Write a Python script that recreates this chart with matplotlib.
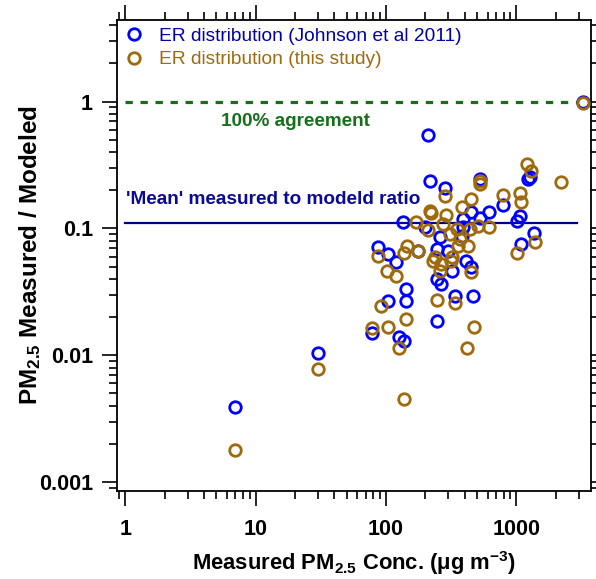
import matplotlib
matplotlib.use("Agg")
import matplotlib.pyplot as plt
from matplotlib.ticker import FixedLocator, FixedFormatter, LogLocator, NullFormatter

plt.rcParams["font.family"] = ["Liberation Sans", "DejaVu Sans"]
plt.rcParams["mathtext.fontset"] = "custom"
plt.rcParams["mathtext.rm"] = "Liberation Sans:bold"
plt.rcParams["mathtext.bf"] = "Liberation Sans:bold"
plt.rcParams["mathtext.default"] = "bf"

# Measured PM2.5 (ug m-3) and measured/modeled ratio, Johnson et al 2011 ERs
johnson_pm = [7.0, 30, 78, 87, 104, 104, 120, 126, 135, 137, 143, 143, 176,
              210, 216, 282, 198, 258, 244, 299, 244, 266, 248, 318, 337,
              409, 452, 465, 390, 379, 390, 452, 524, 620, 524, 791, 1002,
              1071, 1230, 1267, 1372, 1091, 3216]
johnson_ratio = [0.0039, 0.0104, 0.0149, 0.071, 0.063, 0.027, 0.054, 0.014,
                 0.112, 0.0129, 0.0332, 0.0267, 0.0667, 0.546, 0.235, 0.208,
                 0.103, 0.085, 0.069, 0.0667, 0.040, 0.0364, 0.0187, 0.0464,
                 0.0293, 0.0553, 0.0493, 0.0293, 0.1186, 0.0876, 0.102, 0.134,
                 0.121, 0.1336, 0.245, 0.153, 0.115, 0.1246, 0.245, 0.252,
                 0.0915, 0.0753, 1.0]

# Same comparison with the ERs of this study
study_pm = [7.0, 30, 78, 87, 92, 102, 104, 120, 126, 137, 145, 143, 137, 169,
            176, 210, 216, 222, 248, 229, 236, 258, 266, 274, 282, 287, 308,
            318, 314, 337, 347, 357, 368, 379, 414, 426, 439, 452, 452, 471,
            508, 524, 524, 617, 791, 1062, 1081, 1002, 1195, 1283, 1384, 2212,
            3216]
study_ratio = [0.00179, 0.0078, 0.0163, 0.0602, 0.0243, 0.0464, 0.0166,
               0.0423, 0.0115, 0.0639, 0.0722, 0.0193, 0.0045, 0.1117, 0.0667,
               0.0971, 0.1379, 0.1323, 0.0272, 0.0556, 0.0591, 0.0464, 0.0524,
               0.1083, 0.1812, 0.1275, 0.0903, 0.0591, 0.0553, 0.0258, 0.0989,
               0.073, 0.0825, 0.1467, 0.0114, 0.0722, 0.0989, 0.1706, 0.0453,
               0.0166, 0.105, 0.237, 0.222, 0.1026, 0.1835, 0.1904, 0.1607,
               0.0639, 0.322, 0.285, 0.0785, 0.2337, 0.977]

# Reference lines
line_x = [1, 2900]
agreement = 1.0
mean_ratio = 0.11

x_ticks = [1, 10, 100, 1000]
x_tick_labels = ["1", "10", "100", "1000"]
y_ticks = [0.001, 0.01, 0.1, 1]
y_tick_labels = ["0.001", "0.01", "0.1", "1"]

blue = "#0000FF"
brown = "#9E6A0C"

fig = plt.figure(figsize=(5.96, 5.79), dpi=100)
ax = fig.add_axes([0.197, 0.152, 0.7946, 0.8135])
ax.set_xscale("log")
ax.set_yscale("log")
ax.set_xlim(0.87, 3730)
ax.set_ylim(0.00085, 4.4)

ax.plot(line_x, [agreement, agreement], color="#16701A", lw=2.3,
        dashes=(2.3, 2.4), zorder=2)
ax.plot(line_x, [mean_ratio, mean_ratio], color="#000090", lw=1.6, zorder=2)

ax.plot(johnson_pm, johnson_ratio, "o", ms=8.3, mfc="none", mec=blue, mew=2.0,
        label="ER distribution (Johnson et al 2011)", zorder=3)
ax.plot(study_pm, study_ratio, "o", ms=8.3, mfc="none", mec=brown, mew=2.0,
        label="ER distribution (this study)", zorder=4)

ax.text(5.45, 0.70, "100% agreement", color="#16701A", fontsize=13.6,
        fontweight="bold", va="center", ha="left")
ax.text(1.02, 0.17, "'Mean' measured to modeld ratio", color="#0A0A96",
        fontsize=13.7, fontweight="bold", va="center", ha="left")

leg = ax.legend(loc="upper left", bbox_to_anchor=(-0.012, 1.012), frameon=False,
                fontsize=13.8, handlelength=0.9, handletextpad=0.85,
                labelspacing=0.3, borderaxespad=0.3)
leg.get_texts()[0].set_color("#0000A8")
leg.get_texts()[1].set_color(brown)

ax.xaxis.set_major_locator(FixedLocator(x_ticks))
ax.xaxis.set_major_formatter(FixedFormatter(x_tick_labels))
ax.yaxis.set_major_locator(FixedLocator(y_ticks))
ax.yaxis.set_major_formatter(FixedFormatter(y_tick_labels))
ax.xaxis.set_minor_locator(LogLocator(base=10, subs=range(2, 10), numticks=20))
ax.yaxis.set_minor_locator(LogLocator(base=10, subs=range(2, 10), numticks=20))
ax.xaxis.set_minor_formatter(NullFormatter())
ax.yaxis.set_minor_formatter(NullFormatter())

for s in ax.spines.values():
    s.set_linewidth(1.3)
ax.tick_params(which="both", direction="out", top=True, right=True, width=1.2)
ax.tick_params(which="major", length=10.5)
ax.tick_params(which="minor", length=5.5)
ax.tick_params(axis="x", which="major", labelsize=15.5, pad=10)
ax.tick_params(axis="y", which="major", labelsize=15.5, pad=7)
for lab in ax.get_xticklabels() + ax.get_yticklabels():
    lab.set_fontweight("bold")

ax.set_xlabel("Measured PM$_{2.5}$ Conc. (μg m$^{-3}$)", fontsize=15.8,
              fontweight="bold", labelpad=6)
ax.set_ylabel("PM$_{2.5}$ Measured / Modeled", fontsize=17.5,
              fontweight="bold", labelpad=-3)

fig.savefig("out.png", dpi=100)
